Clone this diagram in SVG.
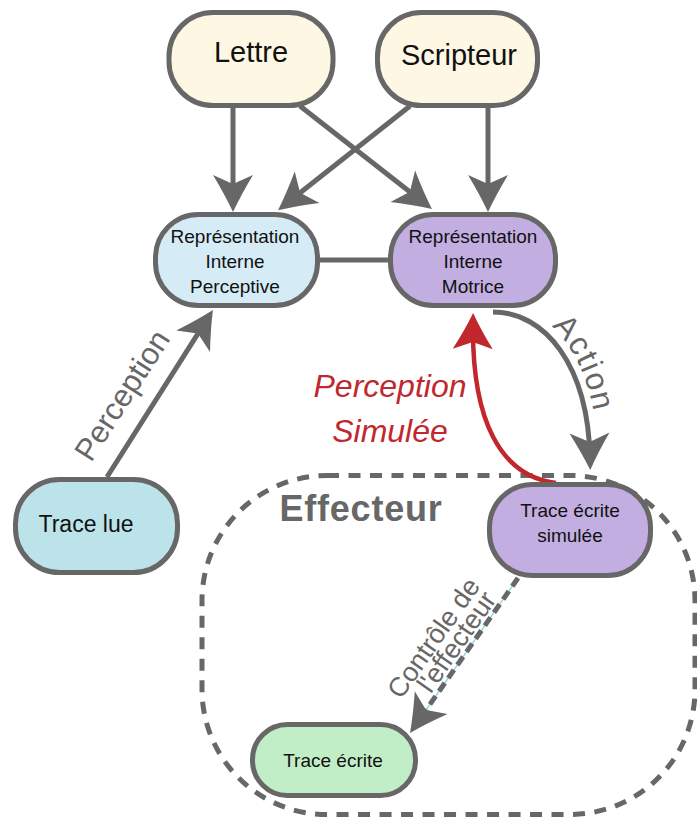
<svg xmlns="http://www.w3.org/2000/svg" width="697" height="818" viewBox="0 0 697 818">
  <style>
    .node rect { stroke: #676767; stroke-width: 5; }
    .t { font-family: "Liberation Sans", Arial, sans-serif; fill: #111; text-anchor: middle; }
    .conn { fill: none; stroke: #676767; stroke-width: 5; }
    .lbl { font-family: "Liberation Sans", Arial, sans-serif; fill: #676767; text-anchor: middle; }
  </style>
  <defs>
    <marker id="ah" viewBox="-40 -22 42 44" refX="-12" refY="0" markerWidth="42" markerHeight="44" markerUnits="userSpaceOnUse" orient="auto">
      <path d="M0,0 Q-17,-8 -37,-20 L-28,0 L-37,20 Q-17,8 0,0 Z" fill="#676767"/>
    </marker>
    <marker id="ahr" viewBox="-40 -22 42 44" refX="-12" refY="0" markerWidth="42" markerHeight="44" markerUnits="userSpaceOnUse" orient="auto">
      <path d="M0,0 Q-17,-8 -36,-20 L-29,0 L-36,20 Q-17,8 0,0 Z" fill="#c1272d"/>
    </marker>
    <path id="actionPath" d="M 495 304 C 551 304, 596 360, 598 455"/>
  </defs>

  <g id="effecteur">
    <rect x="202" y="475.5" width="493" height="339" rx="125" ry="125" fill="none" stroke="#676767" stroke-width="5" stroke-dasharray="12 9.5"/>
    <text x="361" y="521" font-family="'Liberation Sans', Arial, sans-serif" font-weight="bold" font-size="36" fill="#676767" text-anchor="middle" letter-spacing="0.8">Effecteur</text>
  </g>

  <g id="connectors">
    <line class="conn" x1="233" y1="106" x2="233" y2="200" marker-end="url(#ah)"/>
    <line class="conn" x1="300" y1="106" x2="422.5" y2="201.7" marker-end="url(#ah)"/>
    <line class="conn" x1="410" y1="106" x2="287.5" y2="202.7" marker-end="url(#ah)"/>
    <line class="conn" x1="488" y1="106" x2="488" y2="200" marker-end="url(#ah)"/>
    <line class="conn" x1="318" y1="260" x2="390" y2="260"/>
    <line class="conn" x1="107" y1="477" x2="206.5" y2="320.1" marker-end="url(#ah)"/>
    <path class="conn" d="M 493 312 C 545 312, 588 365, 590 458" marker-end="url(#ah)"/>
    <path d="M 556 483 C 500 476, 472 420, 473 325" fill="none" stroke="#c1272d" stroke-width="4.5" marker-end="url(#ahr)"/>
    <line x1="518" y1="578" x2="416.9" y2="723.2" stroke="#7fd0dc" stroke-width="1.2" marker-end="url(#ah)"/>
    <line x1="518" y1="578" x2="426" y2="710" stroke="#676767" stroke-width="5" stroke-dasharray="10 6"/>
  </g>

  <g id="labels">
    <text class="lbl" font-size="31" transform="translate(131 401) rotate(-57.3)">Perception</text>
    <text font-family="'Liberation Sans', Arial, sans-serif" font-size="32" fill="#676767" letter-spacing="1.5"><textPath href="#actionPath" startOffset="62">Action</textPath></text>
    <text class="lbl" font-size="32" font-style="italic" x="390" y="397" style="fill:#c1272d">Perception</text>
    <text class="lbl" font-size="32" font-style="italic" x="390" y="442" style="fill:#c1272d">Simulée</text>
    <text class="lbl" font-size="27" transform="translate(441 643) rotate(-55)">Contrôle de</text>
    <text class="lbl" font-size="27" transform="translate(464 647) rotate(-55)">l'effecteur</text>
  </g>

  <g id="n-lettre" class="node">
    <rect x="169" y="12.5" width="164" height="93" rx="44" fill="#fdf7e4"/>
    <text class="t" x="251" y="62" font-size="29">Lettre</text>
  </g>
  <g id="n-scripteur" class="node">
    <rect x="377.5" y="12.5" width="160" height="93" rx="44" fill="#fdf7e4"/>
    <text class="t" x="459" y="65" font-size="29">Scripteur</text>
  </g>
  <g id="n-rip" class="node">
    <rect x="155.5" y="214.5" width="162" height="91" rx="43" fill="#d5ecf6"/>
    <text class="t" x="235" y="243" font-size="19">Représentation</text>
    <text class="t" x="235" y="268" font-size="19">Interne</text>
    <text class="t" x="235" y="293" font-size="19">Perceptive</text>
  </g>
  <g id="n-rim" class="node">
    <rect x="390.5" y="214.5" width="165" height="91" rx="43" fill="#c2aee0"/>
    <text class="t" x="473" y="243" font-size="19">Représentation</text>
    <text class="t" x="473" y="268" font-size="19">Interne</text>
    <text class="t" x="473" y="293" font-size="19">Motrice</text>
  </g>
  <g id="n-tracelue" class="node">
    <rect x="15.5" y="479.5" width="162" height="93" rx="44" fill="#bde3ea"/>
    <text class="t" x="86" y="532" font-size="23">Trace lue</text>
  </g>
  <g id="n-tes" class="node">
    <rect x="489.5" y="484.5" width="161" height="91" rx="43" fill="#c2aee0"/>
    <text class="t" x="570" y="517" font-size="19">Trace écrite</text>
    <text class="t" x="570" y="542" font-size="19">simulée</text>
  </g>
  <g id="n-traceecrite" class="node">
    <rect x="252.5" y="724.5" width="163" height="71" rx="35" fill="#c1eec6"/>
    <text class="t" x="333" y="767" font-size="19">Trace écrite</text>
  </g>
</svg>
